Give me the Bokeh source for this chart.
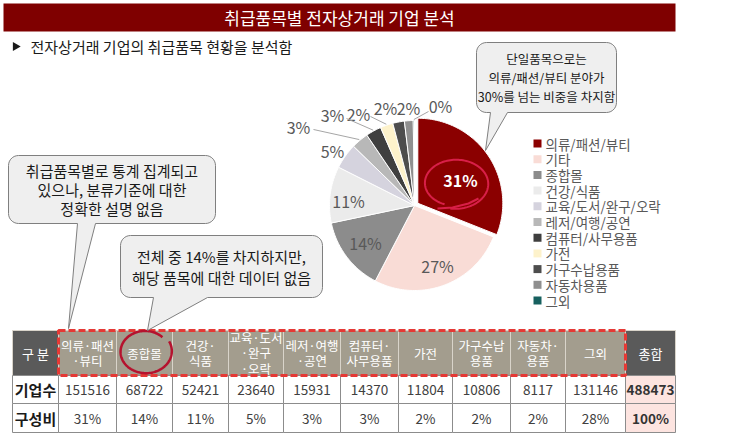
import numpy as np
from bokeh.plotting import figure
from bokeh.models import Range1d
from bokeh.embed import file_html
from bokeh.resources import INLINE
from bokeh.core.properties import value

FONT = "Noto Sans CJK KR"

# ---------------- data ----------------
TITLE = "취급품목별 전자상거래 기업 분석"
SUBTITLE = "전자상거래 기업의 취급품목 현황을 분석함"

table_headers = ["의류·패션\n·뷰티", "종합몰", "건강·\n식품", "교육·도서\n·완구\n·오락", "레저·여행\n·공연",
                 "컴퓨터·\n사무용품", "가전", "가구수납\n용품", "자동차·\n용품", "그외"]
company_counts = [151516, 68722, 52421, 23640, 15931, 14370, 11804, 10806, 8117, 131146]
share_labels = ["31%", "14%", "11%", "5%", "3%", "3%", "2%", "2%", "2%", "28%"]
total_count = 488473
total_share = "100%"
row_names = ["기업수", "구성비"]

pie_names = ["의류/패션/뷰티", "기타", "종합몰", "건강/식품", "교육/도서/완구/오락", "레저/여행/공연",
             "컴퓨터/사무용품", "가전", "가구수납용품", "자동차용품", "그외"]
pie_values = [151516, 130000, 68722, 52421, 23640, 15931, 14370, 11804, 10806, 8117, 1146]
pie_colors = ["#8b0000", "#f9dcd6", "#8c8c8c", "#ebebeb", "#d5d3de", "#b8b8b8",
              "#3f3f3f", "#fdf2cb", "#4d4d4d", "#8f8f8f", "#17605f"]

callout_texts = [
    ["단일품목으로는", "의류/패션/뷰티 분야가", "30%를 넘는 비중을 차지함"],
    ["취급품목별로 통계 집계되고", "있으나, 분류기준에 대한", "정확한 설명 없음"],
    ["전체 중 14%를 차지하지만,", "해당 품목에 대한 데이터 없음"],
]

# ---------------- layout (reference pixel space) ----------------
W, H = 756, 436
p = figure(width=W, height=H, x_range=Range1d(0, W), y_range=Range1d(H, 0),
           output_backend="svg", toolbar_location=None, x_axis_type=None, y_axis_type=None,
           min_border=0)
p.outline_line_color = None
p.background_fill_color = "white"
p.border_fill_color = "white"


def txt(x, y, t, size, color="#404040", align="center", bold=False, baseline="middle", lh=1.2):
    p.text(x=x, y=y, text=t, text_font=value(FONT), text_font_size=value(size),
           text_color=color, text_align=align, text_baseline=baseline,
           text_font_style="bold" if bold else "normal", text_line_height=lh)


# title bar
p.quad(left=[3], right=[675], top=[3], bottom=[31], fill_color="#7f0000", line_color=None)
txt([339], [17], [TITLE], "17px", color="white")
# subtitle
p.scatter(x=[15], y=[46], marker="triangle", size=9, angle=-np.pi / 2,
          fill_color="#1a1a1a", line_color=None)
txt([30], [46], [SUBTITLE], "15px", color="#1a1a1a", align="left")

# ---------------- pie ----------------
cx, cy, R = 414, 205, 85
total = float(sum(pie_values))
fr = np.concatenate([[0.0], np.cumsum(pie_values) / total])
xs, ys = [], []
mids = []
for i in range(len(pie_values)):
    a0, a1 = 2 * np.pi * fr[i], 2 * np.pi * fr[i + 1]
    am = 0.5 * (a0 + a1)
    mids.append(am)
    n = max(2, int((a1 - a0) / 0.02) + 2)
    t = np.linspace(a0, a1, n)
    ox, oy = (4 * np.sin(am), -4 * np.cos(am)) if i == 0 else (0.0, 0.0)
    xs.append(list(np.r_[cx + ox, cx + ox + R * np.sin(t)]))
    ys.append(list(np.r_[cy + oy, cy + oy - R * np.cos(t)]))
p.patches(xs, ys, fill_color=pie_colors, line_color="white", line_width=1)

pct = [f"{round(v / total * 100):d}%" for v in pie_values]
# label anchor positions (layout)
label_pos = [(460, 179), (437, 265), (365, 242), (348, 200), (332, 150), (298, 126),
             (332, 114), (358, 113), (385, 107), (408, 107), (440, 105)]
lead = {5: (313, 129), 6: (346, 118), 7: (370, 116), 10: (428, 111)}
for i, (lx, ly) in enumerate(label_pos):
    if i == 0:
        txt([lx], [ly], [pct[i]], "16px", color="white", bold=True)
    else:
        txt([lx], [ly], [pct[i]], "16px", color="#595959")
for i, (sx, sy) in lead.items():
    ex = cx + (R + 1) * np.sin(mids[i])
    ey = cy - (R + 1) * np.cos(mids[i])
    p.line([sx, ex], [sy, ey], line_color="#a6a6a6", line_width=1)

# hand-drawn circle on 31%
t = np.linspace(0.62 * np.pi, 2.55 * np.pi, 120)
s = np.linspace(0.93, 1.06, 120)
p.line(455 + 32 * s * np.cos(t), 183 + 24 * s * np.sin(t), line_color="#d81f48", line_width=2)
p.line([437, 452, 468, 478], [208, 207, 203, 198], line_color="#d81f48", line_width=2)

# ---------------- legend ----------------
leg_y = [143 + 15.7 * i for i in range(len(pie_names))]
p.quad(left=[533] * len(leg_y), right=[541] * len(leg_y), top=[y - 4 for y in leg_y],
       bottom=[y + 4 for y in leg_y], fill_color=pie_colors, line_color=None)
txt([545] * len(leg_y), leg_y, pie_names, "13.5px", color="#595959", align="left")

# ---------------- table ----------------
col_edges = [12, 58, 116, 172, 228, 283, 340, 398, 452, 510, 565, 625, 675]
row_edges = [330, 375, 403, 432]
ncol = len(col_edges) - 1
L, Rr, T, B, F, LC = [], [], [], [], [], []
for r in range(3):
    for c in range(ncol):
        L.append(col_edges[c]); Rr.append(col_edges[c + 1])
        T.append(row_edges[r]); B.append(row_edges[r + 1])
        if r == 0:
            F.append("#5a5a5a" if c in (0, ncol - 1) else "#a39d8e")
            LC.append("#d9d4ca")
        else:
            F.append("#fde4e0" if c == ncol - 1 else "white")
            LC.append("#8c8c8c")
p.quad(left=L, right=Rr, top=T, bottom=B, fill_color=F, line_color=LC, line_width=1)
ccx = [(col_edges[c] + col_edges[c + 1]) / 2 for c in range(ncol)]
hy = (row_edges[0] + row_edges[1]) / 2
r1 = (row_edges[1] + row_edges[2]) / 2
r2 = (row_edges[2] + row_edges[3]) / 2
txt([ccx[0]], [hy], ["구 분"], "13px", color="white")
txt(ccx[1:-1], [hy] * len(table_headers), table_headers, "12.5px", color="white", lh=0.82)
txt([ccx[-1]], [hy], ["총합"], "13px", color="white")
txt([ccx[0], ccx[0]], [r1, r2], row_names, "15px", color="#1a1a1a", bold=True)
txt(ccx[1:-1], [r1] * len(company_counts), [str(v) for v in company_counts], "13.5px", color="#404040")
txt(ccx[1:-1], [r2] * len(share_labels), share_labels, "13.5px", color="#404040")
txt([ccx[-1], ccx[-1]], [r1, r2], [str(total_count), total_share], "13.5px", color="#333333", bold=True)
# dashed highlight
p.quad(left=[col_edges[1]], right=[col_edges[-2]], top=[row_edges[0]], bottom=[row_edges[1]],
       fill_color=None, line_color="#e53935", line_width=3, line_dash="7 3")
# hand-drawn circle on 종합몰
t = np.linspace(-0.15 * np.pi, 1.75 * np.pi, 120)
s = np.linspace(1.02, 0.92, 120)
p.line(145 + 26 * s * np.cos(t), 351 + 22 * s * np.sin(t), line_color="#b5122e", line_width=2.5)


# ---------------- callouts ----------------
def callout(x0, y0, x1, y1, r, bx0, bx1, tip):
    pts = []

    def arc(ax, ay, a, b):
        tt = np.linspace(a, b, 8)
        return [(ax + r * np.cos(k), ay + r * np.sin(k)) for k in tt]

    pts += arc(x0 + r, y0 + r, np.pi, 1.5 * np.pi)
    pts += arc(x1 - r, y0 + r, 1.5 * np.pi, 2 * np.pi)
    pts += arc(x1 - r, y1 - r, 0, 0.5 * np.pi)
    pts += [(bx1, y1), tip, (bx0, y1)]
    pts += arc(x0 + r, y1 - r, 0.5 * np.pi, np.pi)
    return [q[0] for q in pts], [q[1] for q in pts]


boxes = [
    dict(box=(476, 42, 616, 112), tail=(490, 507, (485, 150)), size="12.5px"),
    dict(box=(8, 155, 215, 223), tail=(77, 95, (68, 328)), size="15px"),
    dict(box=(120, 235, 322, 297), tail=(153, 207, (147, 330)), size="15px"),
]
for b, lines in zip(boxes, callout_texts):
    x0, y0, x1, y1 = b["box"]
    bx0, bx1, tip = b["tail"]
    cxs, cys = callout(x0, y0, x1, y1, 10, bx0, bx1, tip)
    p.patch(cxs, cys, fill_color="#efefef", line_color="#7f7f7f", line_width=1)
    n = len(lines)
    lh = 19 if n == 3 else 21
    ym = (y0 + y1) / 2
    ly = [ym + (k - (n - 1) / 2) * lh for k in range(n)]
    txt([(x0 + x1) / 2] * n, ly, lines, b["size"], color="#1a1a1a")

open("out.html", "w").write(file_html(p, INLINE))
